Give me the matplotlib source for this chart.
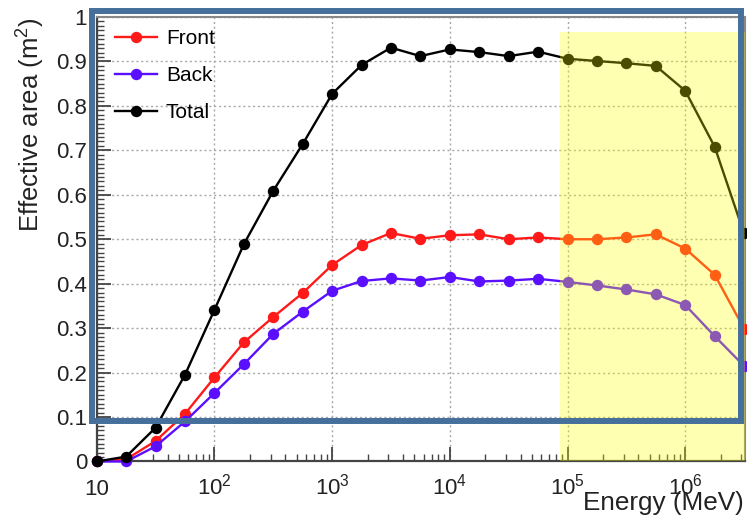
import matplotlib
matplotlib.use("Agg")
import matplotlib.pyplot as plt
from matplotlib.patches import Rectangle
from matplotlib.ticker import FixedLocator, MultipleLocator, NullFormatter

plt.rcParams["font.family"] = ["Liberation Sans", "DejaVu Sans"]
plt.rcParams["mathtext.fontset"] = "custom"
plt.rcParams["mathtext.rm"] = "Liberation Sans"
plt.rcParams["mathtext.it"] = "Liberation Sans:italic"

# energy bins (MeV), quarter-decade steps
energy = [10, 17.8, 31.6, 56.2, 100, 178, 316, 562, 1000, 1780, 3160, 5620,
          1.0e4, 1.78e4, 3.16e4, 5.62e4, 1.0e5, 1.78e5, 3.16e5, 5.62e5,
          1.0e6, 1.78e6, 3.16e6]

# effective area (m^2)
front = [0.0, 0.005, 0.046, 0.107, 0.189, 0.268, 0.325, 0.379, 0.442, 0.487,
         0.514, 0.501, 0.509, 0.511, 0.500, 0.504, 0.500, 0.500, 0.504, 0.511,
         0.479, 0.420, 0.299]
back = [0.0, 0.0, 0.034, 0.090, 0.154, 0.219, 0.287, 0.337, 0.384, 0.406,
        0.412, 0.407, 0.415, 0.405, 0.407, 0.411, 0.404, 0.396, 0.387, 0.376,
        0.352, 0.282, 0.215]
total = [0.0, 0.011, 0.076, 0.195, 0.341, 0.489, 0.609, 0.714, 0.827, 0.892,
         0.931, 0.912, 0.927, 0.921, 0.912, 0.922, 0.906, 0.901, 0.896, 0.890,
         0.834, 0.708, 0.513]

series_labels = ["Front", "Back", "Total"]
series_colors = ["#ff1a1a", "#5a10ff", "#000000"]

# highlighted high-energy range
band_lo = 8.7e4
band_top = 0.967

x_major = [10, 1e2, 1e3, 1e4, 1e5, 1e6]
x_labels = ["10", r"$\mathregular{10^{2}}$", r"$\mathregular{10^{3}}$",
            r"$\mathregular{10^{4}}$", r"$\mathregular{10^{5}}$",
            r"$\mathregular{10^{6}}$"]
y_major = [0.0, 0.1, 0.2, 0.3, 0.4, 0.5, 0.6, 0.7, 0.8, 0.9, 1.0]
y_labels = ["0", "0.1", "0.2", "0.3", "0.4", "0.5", "0.6", "0.7", "0.8", "0.9", "1"]

fig = plt.figure(figsize=(7.47, 5.18), dpi=100)
ax = fig.add_axes([0.1295, 0.1091, 0.8678, 0.8581])

for vals, lab, col in zip([front, back, total], series_labels, series_colors):
    ax.plot(energy, vals, color=col, lw=1.7, marker="o", ms=7.2,
            label=lab, zorder=3, clip_on=False)

ax.set_xscale("log")
ax.set_xlim(10, 3.22e6)
ax.set_ylim(0, 1)

ax.xaxis.set_major_locator(FixedLocator(x_major))
ax.set_xticklabels(x_labels)
ax.xaxis.set_minor_locator(FixedLocator(
    [m * 10 ** e for e in range(1, 7) for m in range(2, 10)]))
ax.xaxis.set_minor_formatter(NullFormatter())
ax.yaxis.set_major_locator(FixedLocator(y_major))
ax.set_yticklabels(y_labels)
ax.yaxis.set_minor_locator(MultipleLocator(0.01))

ax.grid(True, which="major", color="#a8a8a8", ls=(0, (1.5, 2)), lw=1.0, zorder=1)
ax.tick_params(which="both", direction="in", colors="#444444",
               labelcolor="#222222", labelsize=16, top=False, right=False)
ax.tick_params(which="major", length=10, width=1.3)
ax.tick_params(which="minor", length=5, width=1.0)
ax.tick_params(axis="y", pad=7)
ax.tick_params(axis="x", pad=24)
for lbl in ax.get_xticklabels():
    lbl.set_verticalalignment("baseline")

for side in ["left", "bottom"]:
    ax.spines[side].set_color("#444444")
    ax.spines[side].set_linewidth(1.6)
for side in ["top", "right"]:
    ax.spines[side].set_color("#888888")
    ax.spines[side].set_linewidth(1.5)

ax.axvspan(band_lo, ax.get_xlim()[1], ymin=0, ymax=band_top,
           color=(1.0, 1.0, 0.0), alpha=0.3, lw=0, zorder=10)

ax.legend(loc="upper left", bbox_to_anchor=(0.028, 0.972), frameon=False,
          fontsize=15, handlelength=2.0, handletextpad=0.45,
          labelspacing=0.85, borderaxespad=0, borderpad=0)

fig.text(0.041, 0.967, r"Effective area (m$^{2}$)", rotation=90,
         ha="center", va="top", fontsize=18.5, color="#222222")
fig.text(0.995, 8 / 518, "Energy (MeV)", ha="right", va="baseline",
         fontsize=18.8, color="#222222")

frame = Rectangle((0.1234, 0.1876), 0.8683, 0.7917, transform=fig.transFigure,
                  fill=False, edgecolor="#466f9b", lw=4.3, zorder=20)
fig.add_artist(frame)

fig.savefig("out.png", dpi=100)
